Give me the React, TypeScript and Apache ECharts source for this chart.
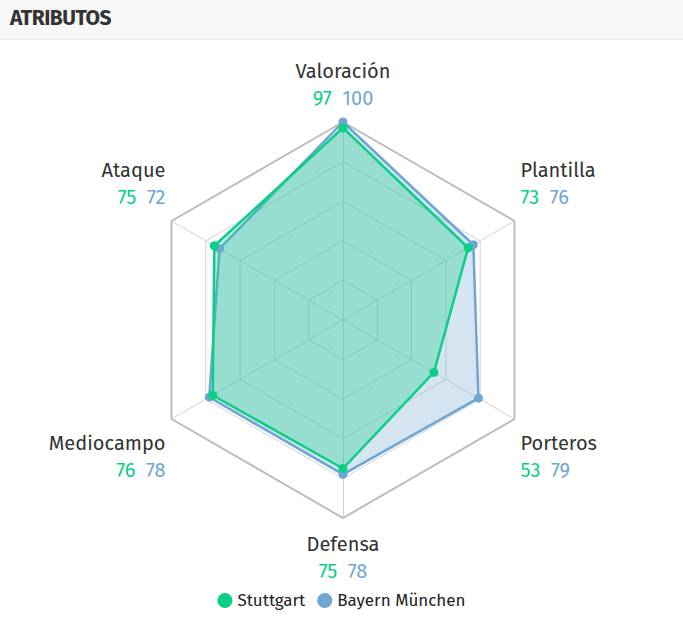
import { useEffect, useRef } from "react";
import * as echarts from "echarts";

// indicators in echarts order (counter-clockwise from the top)
const attributes = ["Valoración", "Ataque", "Mediocampo", "Defensa", "Porteros", "Plantilla"];
const stuttgart = [97, 75, 76, 75, 53, 73];
const bayern = [100, 72, 78, 78, 79, 76];
const teams = ["Stuttgart", "Bayern München"];

const GREEN = "#0bcf85";
const BLUE = "#6fa6d2";
const FONT = "'Fira Sans', 'Liberation Sans Narrow', Lato, sans-serif";

// spacer line before/after each label so upper labels sit above their vertex, lower ones below
const labelShift: Record<string, [number, number]> = {
  "Valoración": [0, 4],
  "Ataque": [0, 68],
  "Plantilla": [0, 68],
  "Mediocampo": [68, 0],
  "Porteros": [68, 0],
  "Defensa": [5, 0],
};

export default function App() {
  const ref = useRef<HTMLDivElement>(null);

  useEffect(() => {
    if (!ref.current) return;
    const chart = echarts.init(ref.current, null, { renderer: "svg" });
    const indicator = attributes.map(name => ({ name, min: 0, max: 100 }));

    const rich: Record<string, any> = {
      s: { color: GREEN, fontSize: 20, fontFamily: FONT, lineHeight: 27 },
      b: { color: BLUE, fontSize: 20, fontFamily: FONT, lineHeight: 27 },
    };
    [4, 5, 68].forEach(h => { rich["g" + h] = { fontSize: 2, lineHeight: h }; });

    chart.setOption({
      animation: false,
      textStyle: { fontFamily: FONT },
      legend: {
        bottom: 12,
        left: "center",
        icon: "circle",
        itemWidth: 15,
        itemHeight: 15,
        itemGap: 12,
        textStyle: { color: "#222", fontSize: 17, fontFamily: FONT },
        data: teams,
      },
      radar: [
        {
          center: [343, 320],
          radius: 198,
          startAngle: 90,
          splitNumber: 5,
          indicator,
          axisName: {
            color: "#333",
            fontSize: 20,
            lineHeight: 27,
            fontFamily: FONT,
            formatter: (name: string) => {
              const i = attributes.indexOf(name);
              const [before, after] = labelShift[name];
              let txt = `${name}\n{s|${stuttgart[i]}}  {b|${bayern[i]}}`;
              if (before) txt = `{g${before}| }\n` + txt;
              if (after) txt = txt + `\n{g${after}| }`;
              return txt;
            },
            rich,
          },
          nameGap: 7,
          axisLine: { lineStyle: { color: "#d2d2d2", width: 1 } },
          splitLine: { lineStyle: { color: "#d2d2d2", width: 1 } },
          splitArea: { show: false },
        },
        {
          center: [343, 320],
          radius: 198,
          startAngle: 90,
          splitNumber: 1,
          indicator: attributes.map(() => ({ name: "", min: 0, max: 100 })),
          axisName: { show: false },
          axisLine: { show: false },
          splitLine: { lineStyle: { color: "#bdbdbd", width: 2 } },
          splitArea: { show: false },
        },
      ],
      series: [
        {
          type: "radar",
          radarIndex: 0,
          symbol: "circle",
          symbolSize: 9,
          data: [
            {
              name: teams[1],
              value: bayern,
              itemStyle: { color: BLUE },
              lineStyle: { color: BLUE, width: 2.5 },
              areaStyle: { color: BLUE, opacity: 0.3 },
            },
            {
              name: teams[0],
              value: stuttgart,
              itemStyle: { color: GREEN },
              lineStyle: { color: GREEN, width: 2.5 },
              areaStyle: { color: GREEN, opacity: 0.3 },
            },
          ],
        },
      ],
    });

    return () => chart.dispose();
  }, []);

  return (
    <div style={{ position: "absolute", left: 0, top: 0, width: 683, height: 626, background: "#fff" }}>
      <div ref={ref} style={{ position: "absolute", left: 0, top: 0, width: 683, height: 626 }} />
      <div
        style={{
          position: "absolute",
          left: 0,
          top: 0,
          width: 683,
          height: 40,
          boxSizing: "border-box",
          background: "#f7f7f7",
          borderBottom: "1px solid #e8e8e8",
          fontFamily: FONT,
          fontWeight: 700,
          fontSize: 21,
          color: "#333",
          lineHeight: "36px",
          paddingLeft: 10,
          letterSpacing: -0.5,
        }}
      >
        ATRIBUTOS
      </div>
    </div>
  );
}
